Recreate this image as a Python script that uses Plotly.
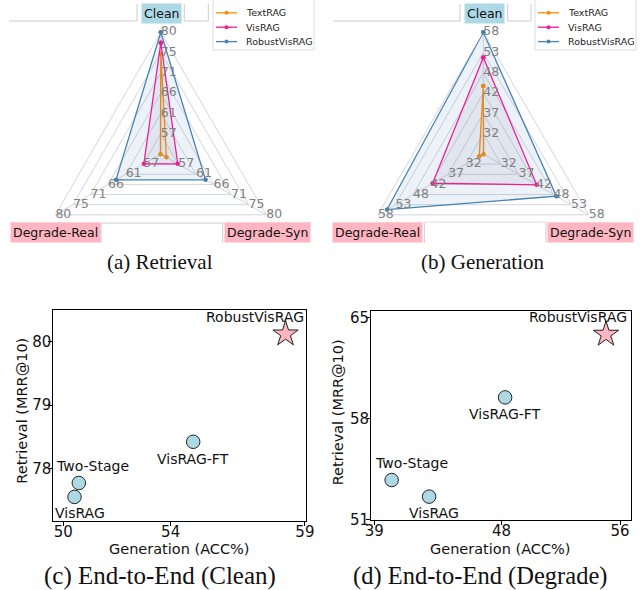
import numpy as np
import plotly.graph_objects as go

W, H = 640, 590

# ---------------- data ----------------
categories = ["Clean", "Degrade-Real", "Degrade-Syn"]
methods = ["TextRAG", "VisRAG", "RobustVisRAG"]
colors = ["#ff8c00", "#ff1493", "#4682b4"]
fills = ["rgba(255,140,0,0.06)", "rgba(150,140,175,0.12)", "rgba(70,130,180,0.10)"]

# (a) Retrieval radar
ret_textrag = [75.0, 52.1, 53.5]
ret_visrag = [77.6, 56.5, 56.5]
ret_robust = [80.0, 63.9, 63.9]
ret_range = [52, 80]
ret_ticklabels = ["57", "61", "66", "71", "75", "80"]

# (b) Generation radar
gen_textrag = [44.3, 28.2, 27.1]
gen_visrag = [51.6, 41.9, 42.7]
gen_robust = [58.0, 55.3, 48.5]
gen_range = [27, 58]
gen_ticklabels = ["32", "37", "42", "48", "53", "58"]

# (c)/(d) end-to-end scatter
e2e_methods = ["VisRAG", "Two-Stage", "VisRAG-FT", "RobustVisRAG"]
clean_gen = [50.42, 50.58, 54.84, 58.28]
clean_ret = [77.55, 77.77, 78.42, 80.12]
degrade_gen = [42.79, 40.20, 48.05, 55.03]
degrade_ret = [52.57, 53.72, 59.45, 63.82]

clean_xticks = [50, 54, 59]
clean_yticks = [78, 79, 80]
degrade_xticks = [39, 47.8, 56]
degrade_xticklabels = ["39", "48", "56"]
degrade_yticks = [51, 58, 65]

captions = ["(a) Retrieval", "(b) Generation", "(c) End-to-End (Clean)", "(d) End-to-End (Degrade)"]


def px(x):
    return x / W


def py(y):
    return 1 - y / H


fig = go.Figure()
FONT = "DejaVu Sans"
annotations = []
shapes = []

# ---------------- radars ----------------
radars = [
    ("polar", [ret_textrag, ret_visrag, ret_robust], ret_range, ret_ticklabels, 160.8, 213),
    ("polar2", [gen_textrag, gen_visrag, gen_robust], gen_range, gen_ticklabels, 483.3, 535),
]
R = 121.7
CY = 154.0
grid_col = "#d4d6e0"
for sub, series, rng, tlabels, cx, legx in radars:
    for name, vals, col, fc in zip(methods, series, colors, fills):
        fig.add_trace(go.Scatterpolar(
            r=vals + [vals[0]], theta=categories + [categories[0]],
            mode="lines+markers", name=name, subplot=sub, showlegend=False,
            line=dict(color=col, width=1.3), marker=dict(color=col, size=4.5),
            fill="toself", fillcolor=fc,
        ))
    tickvals = list(np.linspace(rng[0], rng[1], 7)[1:])
    fig.add_trace(go.Scatterpolar(
        r=tickvals * 3, theta=[c for c in categories for _ in tickvals],
        mode="text", text=tlabels * 3, textposition="middle right",
        textfont=dict(color="#808080", size=12.5, family=FONT),
        subplot=sub, showlegend=False, cliponaxis=False, hoverinfo="skip",
    ))
    fig.update_layout({sub: dict(
        domain=dict(x=[px(cx - R), px(cx + R)], y=[py(CY + R), py(CY - R)]),
        gridshape="linear", bgcolor="white",
        angularaxis=dict(type="category", categoryarray=categories, rotation=90,
                         direction="counterclockwise", showticklabels=False, ticks="",
                         gridcolor=grid_col, linecolor=grid_col, showline=True,
                         layer="below traces"),
        radialaxis=dict(range=rng, tickvals=tickvals, showticklabels=False, ticks="",
                        showline=False, gridcolor=grid_col, layer="below traces"),
    )})

    # legend (drawn as a small key box)
    shapes.append(dict(type="rect", xref="paper", yref="paper", x0=px(legx), x1=px(legx + 101),
                       y0=py(50), y1=py(-2), line=dict(color="#dddddd", width=1),
                       fillcolor="white", layer="above"))
    for i, (name, col) in enumerate(zip(methods, colors)):
        yy = 12.8 + 14.4 * i
        shapes.append(dict(type="line", xref="paper", yref="paper", x0=px(legx + 3),
                           x1=px(legx + 24), y0=py(yy), y1=py(yy),
                           line=dict(color=col, width=1.3), layer="above"))
        shapes.append(dict(type="circle", xref="paper", yref="paper",
                           x0=px(legx + 11.5), x1=px(legx + 15.5), y0=py(yy + 2), y1=py(yy - 2),
                           line=dict(color=col, width=0), fillcolor=col, layer="above"))
        annotations.append(dict(text=name, x=px(legx + 31), y=py(yy), xref="paper", yref="paper",
                                xanchor="left", yanchor="middle", showarrow=False,
                                font=dict(size=9.5, family=FONT, color="#222")))

# category label boxes
label_boxes = [
    ("Clean", 161.7, 13.5, "#add8e6"), ("Degrade-Real", 55.0, 232.3, "#ffb6c1"),
    ("Degrade-Syn", 267.5, 232.3, "#ffb6c1"),
    ("Clean", 484.7, 13.5, "#add8e6"), ("Degrade-Real", 377.8, 232.3, "#ffb6c1"),
    ("Degrade-Syn", 590.8, 232.3, "#ffb6c1"),
]
for txt, x, y, bg in label_boxes:
    annotations.append(dict(text=txt, x=px(x), y=py(y), xref="paper", yref="paper",
                            xanchor="center", yanchor="middle",
                            showarrow=False, bgcolor=bg, borderpad=2,
                            font=dict(size=12.5, family=FONT, color="#111")))

# stray frame lines
seg_col = "#cccccc"
paths = [
    [(9, 21), (137, 21), (137, 4)],
    [(184.3, 4), (184.3, 21), (208.3, 21), (208.3, 4)],
    [(101, 243), (101, 223), (222.7, 223), (222.7, 243)],
    [(333, 21), (460, 21), (460, 4)],
    [(507.7, 4), (507.7, 21), (531, 21), (531, 4)],
    [(424.3, 243), (424.3, 222.3), (546, 222.3), (546, 243)],
]
for p in paths:
    d = "M " + " L ".join(f"{px(x):.5f},{py(y):.5f}" for x, y in p)
    shapes.append(dict(type="path", path=d, xref="paper", yref="paper",
                       line=dict(color=seg_col, width=1)))
for x0, x1 in [(10, 312), (333, 633)]:
    shapes.append(dict(type="line", x0=px(x0), x1=px(x1), y0=py(222.5), y1=py(222.5),
                       xref="paper", yref="paper", line=dict(color="#e8e8e8", width=1)))

# ---------------- scatter plots ----------------
offsets = {  # label offsets in px (x right, y up)
    "VisRAG": (5, -16), "Two-Stage": (14, 17), "VisRAG-FT": (0, -17), "RobustVisRAG": (-31, 17),
}
offsets_d = {
    "VisRAG": (5, -16), "Two-Stage": (20, 17), "VisRAG-FT": (0, -17), "RobustVisRAG": (-28, 17),
}
scat = [
    ("x", "y", clean_gen, clean_ret, offsets),
    ("x2", "y2", degrade_gen, degrade_ret, offsets_d),
]
for xa, ya, gx, ry, offs in scat:
    fig.add_trace(go.Scatter(
        x=gx[:3], y=ry[:3], mode="markers", xaxis=xa, yaxis=ya, showlegend=False,
        marker=dict(symbol="circle", size=13.5, color="#add8e6",
                    line=dict(color="#222", width=1)),
    ))
    fig.add_trace(go.Scatter(
        x=gx[3:], y=ry[3:], mode="markers", xaxis=xa, yaxis=ya, showlegend=False,
        marker=dict(symbol="star", size=19, color="#ffb6c1",
                    line=dict(color="#222", width=1)),
    ))
    for m, xv, yv in zip(e2e_methods, gx, ry):
        dx, dy = offs[m]
        annotations.append(dict(text=m, x=xv, y=yv, xref=xa, yref=ya, showarrow=False,
                                xanchor="center", yanchor="middle",
                                xshift=dx, yshift=dy,
                                font=dict(size=14, family=FONT, color="#111")))

axis_common = dict(showline=True, mirror=True, linecolor="black", linewidth=1,
                   ticks="outside", ticklen=4, tickcolor="black", showgrid=False,
                   zeroline=False, automargin=False,
                   tickfont=dict(size=15, family=FONT, color="#111"))
fig.update_layout(
    xaxis=dict(domain=[px(53.3), px(305.7)], range=[49.63, 59.03], tickvals=clean_xticks,
               anchor="y", ticklabelstandoff=-7, **axis_common),
    yaxis=dict(domain=[py(521), py(310)], range=[77.17, 80.5], tickvals=clean_yticks,
               anchor="x", ticklabelstandoff=-6, **axis_common),
    xaxis2=dict(domain=[px(371), px(630.7)], range=[38.77, 56.74], tickvals=degrade_xticks,
                ticktext=degrade_xticklabels, anchor="y2", ticklabelstandoff=-7, **axis_common),
    yaxis2=dict(domain=[py(520), py(310.7)], range=[50.95, 65.46], tickvals=degrade_yticks,
                anchor="x2", ticklabelstandoff=-6, **axis_common),
)

# axis titles
for txt, x, y, ang in [("Generation (ACC%)", 179.5, 549, 0), ("Retrieval (MRR@10)", 21.7, 411, -90),
                       ("Generation (ACC%)", 500, 549, 0), ("Retrieval (MRR@10)", 338.3, 412, -90)]:
    annotations.append(dict(text=txt, x=px(x), y=py(y), xref="paper", yref="paper",
                            xanchor="center", yanchor="middle",
                            showarrow=False, textangle=ang,
                            font=dict(size=14.5, family=FONT, color="#111")))

# captions
for txt, x, y, s in [(captions[0], 160, 262, 21), (captions[1], 483, 262, 21),
                     (captions[2], 160, 576, 25), (captions[3], 480, 576, 24.5)]:
    annotations.append(dict(text=txt, x=px(x), y=py(y), xref="paper", yref="paper",
                            xanchor="center", yanchor="middle",
                            showarrow=False, font=dict(size=s, family="Liberation Serif", color="#111")))

fig.update_layout(
    width=W, height=H, margin=dict(l=0, r=0, t=0, b=0, autoexpand=False),
    paper_bgcolor="white", plot_bgcolor="white", showlegend=False,
    annotations=annotations, shapes=shapes,
    font=dict(family=FONT),
)

fig.write_html("out.html", config={"displayModeBar": False},
               post_script="document.body.style.margin='0px';")
